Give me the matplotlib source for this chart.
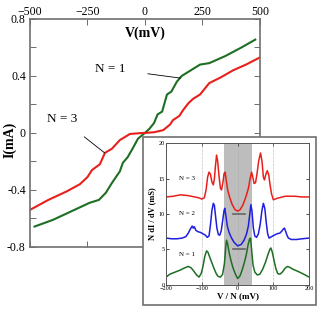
import matplotlib
matplotlib.use("Agg")
import matplotlib.pyplot as plt
from matplotlib.patches import Rectangle

plt.rcParams['font.family'] = ['Liberation Serif', 'DejaVu Serif']

# main I-V curves
v_n1 = [-480, -400, -320, -240, -200, -170, -143, -122, -109, -96, -75, -57, -30, 0,
        20, 40, 55, 75, 96, 115, 139, 160, 200, 240, 280, 350, 420, 480]
i_n1 = [-0.657, -0.61, -0.55, -0.49, -0.47, -0.42, -0.35, -0.30, -0.27, -0.21, -0.17, -0.12, -0.04, 0.0,
        0.03, 0.07, 0.13, 0.15, 0.27, 0.29, 0.36, 0.40, 0.44, 0.48, 0.49, 0.54, 0.60, 0.655]

v_n3 = [-500, -420, -340, -283, -250, -230, -196, -174, -143, -109, -65, -9, 0,
        40, 80, 110, 122, 150, 166, 190, 210, 240, 280, 330, 384, 440, 500]
i_n3 = [-0.54, -0.47, -0.41, -0.36, -0.31, -0.26, -0.22, -0.14, -0.11, -0.05, -0.007, 0.0, 0.0,
        0.005, 0.02, 0.06, 0.09, 0.12, 0.16, 0.21, 0.24, 0.27, 0.35, 0.39, 0.44, 0.48, 0.53]

# inset dI/dV curves (V/N in mV, N dI/dV in mS)
g1_v = [-200, -190, -175, -160, -148, -138, -130, -122, -115, -108, -102, -97, -92, -87, -83,
        -78, -72, -66, -60, -55, -48, -42, -37, -33, -31, -28, -24, -19, -13, -6, 0,
        6, 12, 18, 24, 29, 33, 36, 39, 43, 48, 55, 62, 70, 78, 85, 90, 93, 97, 102,
        107, 112, 118, 125, 132, 139, 145, 155, 169, 185, 200]
g1_y = [1.1, 1.5, 1.8, 2.1, 2.4, 2.6, 2.4, 1.9, 1.4, 1.1, 1.6, 2.6, 4.0, 4.8, 4.6,
        3.9, 3.1, 2.3, 1.6, 1.2, 1.1, 1.5, 3.0, 5.5, 6.3, 5.8, 4.6, 3.5, 2.4, 1.5, 0.9,
        1.2, 2.0, 3.0, 4.2, 5.6, 6.4, 6.6, 5.0, 2.8, 1.8, 1.4, 1.5, 2.2, 3.2, 4.3, 5.0, 5.2, 4.6, 3.4,
        2.3, 1.6, 1.5, 1.8, 2.3, 2.6, 2.5, 2.2, 1.9, 1.5, 1.1]

g2_v = [-200, -185, -170, -155, -145, -138, -132, -127, -124, -121, -117, -111, -104, -97, -90,
        -85, -80, -76, -72, -68, -65, -62, -58, -54, -50, -46, -42, -38, -36, -33, -29,
        -24, -18, -10, 0, 10, 18, 25, 30, 34, 37, 40, 44, 48, 53, 58, 63, 68, 72, 76,
        80, 84, 88, 95, 102, 110, 118, 124, 128, 131, 134, 138, 142, 150, 165, 180, 200]
g2_y = [6.6, 6.5, 6.5, 6.6, 6.8, 7.3, 7.9, 8.3, 8.0, 8.2, 7.7, 7.5, 7.4, 7.2, 7.0,
        6.7, 6.9, 8.5, 10.5, 11.5, 11.2, 9.8, 8.0, 7.1, 7.0, 7.6, 9.0, 10.5, 10.8, 9.8, 8.3,
        7.4, 6.7, 6.0, 5.5, 5.7, 6.3, 7.2, 8.3, 10.0, 11.3, 10.5, 8.0, 6.9, 6.7, 7.2, 8.5, 10.5, 11.5, 10.8,
        8.8, 7.2, 6.6, 6.8, 7.0, 7.2, 7.3, 7.6, 7.9, 8.0, 7.6, 7.0, 6.6, 6.4, 6.4, 6.5, 6.6]

g3_v = [-200, -180, -160, -140, -120, -110, -100, -93, -88, -84, -80, -76, -72, -68, -65,
        -62, -59, -56, -52, -48, -45, -41, -38, -35, -32, -28, -22, -15, -7, 0,
        7, 15, 23, 30, 35, 39, 42, 46, 50, 54, 59, 64, 68, 72, 75, 79, 83, 87, 91, 95,
        100, 110, 133, 160, 180, 200]
g3_y = [12.4, 12.5, 12.7, 12.6, 12.4, 12.3, 12.1, 12.3, 13.5, 15.2, 15.9, 15.6, 14.5, 14.1, 15.0,
        16.8, 18.3, 17.5, 15.3, 13.6, 13.4, 14.5, 15.7, 15.9, 14.8, 13.4, 12.3, 11.3, 10.6, 10.4,
        10.6, 11.3, 12.4, 13.6, 15.0, 15.9, 15.3, 14.3, 14.4, 15.6, 17.5, 18.6, 17.5, 15.2, 14.8, 15.6, 16.1, 15.5, 14.0, 12.8,
        12.0, 12.2, 12.5, 12.5, 12.4, 12.4]

red = '#e8201c'
green = '#1e6e23'
blue = '#1f1fe0'

fig = plt.figure(figsize=(3.22, 3.11), dpi=100)
ax = fig.add_axes([0.093, 0.206, 0.714, 0.733])
ax.plot(v_n1, i_n1, color=green, lw=1.5)
ax.plot(v_n3, i_n3, color=red, lw=1.5)
ax.set_xlim(-500, 500)
ax.set_ylim(-0.8, 0.8)
ax.set_xticks([-500, -250, 0, 250, 500])
ax.set_yticks([-0.8, -0.4, 0, 0.4, 0.8])
ax.set_yticklabels(['-0.8', '-0.4', '0', '0.4', '0.8'])
ax.set_yticks([-0.6, -0.2, 0.2, 0.6], minor=True)
ax.tick_params(which='both', direction='in', top=True, right=True, labeltop=True,
               labelbottom=False, labelsize=8.5, length=4, width=0.6, color='#555555')
ax.tick_params(axis='y', which='both', pad=3)
ax.tick_params(axis='x', pad=1)
for s in ax.spines.values():
    s.set_color('#707070')
    s.set_linewidth(1.2)
ax.text(0, 0.70, 'V(mV)', ha='center', va='center', fontsize=10, fontweight='bold')
fig.text(0.03, 1 - 140 / 311, 'I(mA)', rotation=90, ha='center', va='center',
         fontsize=10, fontweight='bold')
ax.annotate('N = 1', xy=(155, 0.385), xytext=(-150, 0.45), fontsize=9.5,
            ha='center', va='center',
            arrowprops=dict(arrowstyle='-', color='black', lw=0.6, shrinkA=14, shrinkB=0))
ax.annotate('N = 3', xy=(-175, -0.14), xytext=(-360, 0.095), fontsize=9.5,
            ha='center', va='center',
            arrowprops=dict(arrowstyle='-', color='black', lw=0.6, shrinkA=10, shrinkB=0))

# inset frame
fig.patches.append(Rectangle((0.444, 0.019), 0.537, 0.540, transform=fig.transFigure,
                             facecolor='white', edgecolor='#707070', lw=1.2, zorder=2))

ins = fig.add_axes([0.516, 0.084, 0.444, 0.456], zorder=3)
ins.axvspan(-37, 40, color='#bdbdbd', lw=0)
for xv in [-100, 0, 100]:
    ins.axvline(xv, color='#aaaaaa', lw=0.5, ls=(0, (1, 1)))
ins.plot(g1_v, g1_y, color=green, lw=1.1)
ins.plot(g2_v, g2_y, color=blue, lw=1.1)
ins.plot(g3_v, g3_y, color=red, lw=1.1)
ins.plot([-14, 22], [10, 10], color='#666666', lw=1.2)
ins.plot([-14, 22], [5, 5], color='#666666', lw=1.2)
ins.set_xlim(-200, 200)
ins.set_ylim(0, 20)
ins.set_xticks([-200, -100, 0, 100, 200])
ins.set_yticks([0, 5, 10, 15, 20])
ins.tick_params(direction='in', top=True, right=True, labelsize=4.5, length=2, width=0.5, pad=1)
for s in ins.spines.values():
    s.set_color('#555555')
    s.set_linewidth(0.7)
ins.set_xlabel('V / N (mV)', fontsize=6.5, fontweight='bold', labelpad=1)
ins.set_ylabel('N dI / dV (mS)', fontsize=6, fontweight='bold', labelpad=2)
ins.text(-165, 15, 'N = 3', fontsize=5, va='center')
ins.text(-165, 10, 'N = 2', fontsize=5, va='center')
ins.text(-165, 4.3, 'N = 1', fontsize=5, va='center')

fig.savefig('out.png', dpi=100)
